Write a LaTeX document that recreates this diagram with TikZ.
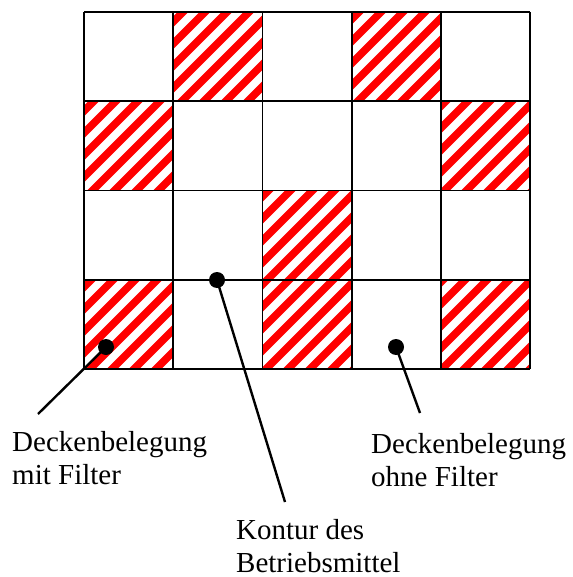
\documentclass[tikz,border=0pt]{standalone}
\usepackage{fontspec}
\setmainfont{Liberation Serif}
\begin{document}
\begin{tikzpicture}[x=1pt,y=-1pt,
  gridline/.style={line width=1.8pt,black},
  hatchline/.style={red,line width=7.5pt},
  dot/.style={circle,fill=black,inner sep=0pt,minimum size=16pt},
  leader/.style={line width=2.4pt,black},
  lbl/.style={anchor=base west,inner sep=0pt,align=left,font=\fontsize{29}{33}\selectfont}]
\useasboundingbox (0,0) rectangle (572,577);
% hatched cells
\begin{scope}
  \clip (173.2,12) rectangle +(89.2,89.25)
        (351.6,12) rectangle +(89.2,89.25)
        (84,101.25) rectangle +(89.2,89.25)
        (440.8,101.25) rectangle +(89.2,89.25)
        (262.4,190.5) rectangle +(89.2,89.25)
        (84,279.75) rectangle +(89.2,89.25)
        (262.4,279.75) rectangle +(89.2,89.25)
        (440.8,279.75) rectangle +(89.2,89.25);
  \foreach \k in {0,...,46}{
    \pgfmathsetmacro{\s}{19+22*\k}
    \draw[hatchline] (\s,0) -- ({\s-600},600);
  }
\end{scope}
% grid
\foreach \i in {0,...,5}{
  \draw[gridline] ({84+89.2*\i},12) -- ({84+89.2*\i},369);
}
\foreach \j in {0,...,4}{
  \draw[gridline] (84,{12+89.25*\j}) -- (530,{12+89.25*\j});
}
% dots
\node[dot] (d1) at (106,347) {};
\node[dot] (d2) at (217,280) {};
\node[dot] (d3) at (396,347) {};
\coordinate (e1) at (38,414);
\coordinate (e2) at (285,502);
\coordinate (e3) at (420,413);
\draw[leader] (d1.center) -- (e1);
\draw[leader] (d2.center) -- (e2);
\draw[leader] (d3.center) -- (e3);
% labels
\node[lbl] (t1) at (12,484) {Deckenbelegung\\mit Filter};
\node[lbl] (t2) at (371,486) {Deckenbelegung\\ohne Filter};
\node[lbl] (t3) at (236,572) {Kontur des\\Betriebsmittel};
\end{tikzpicture}
\end{document}
